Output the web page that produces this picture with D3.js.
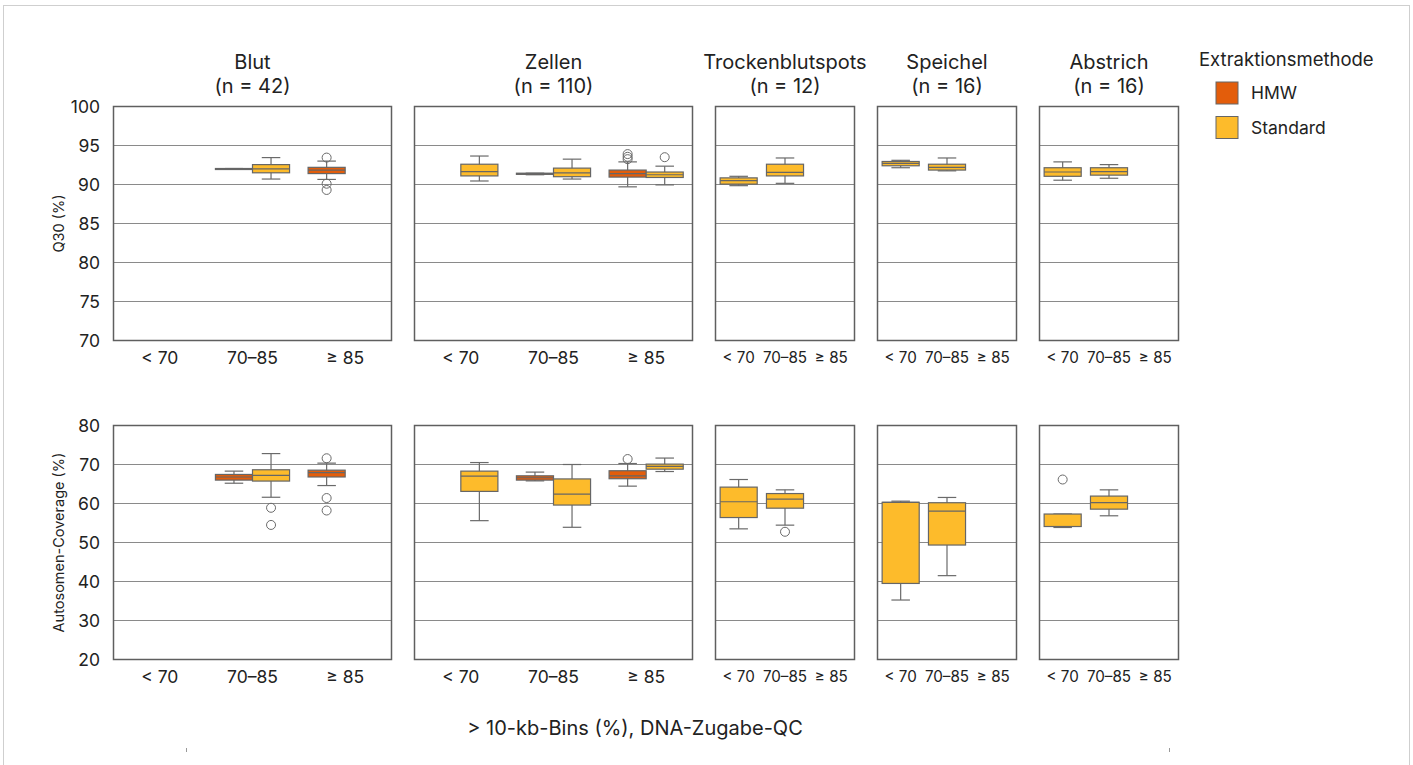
<!DOCTYPE html>
<html>
<head>
<meta charset="utf-8">
<script src="https://cdn.jsdelivr.net/npm/d3@7"></script>
<style>
  body { margin: 0; background: #fff; }
  svg { font-family: Inter, "Noto Sans", sans-serif; }
</style>
</head>
<body>
<div id="chart"></div>
<script>
// facets and their sample sizes
var panels = ["Blut", "Zellen", "Trockenblutspots", "Speichel", "Abstrich"];
var panelN = [42, 110, 12, 16, 16];
var bins = ["< 70", "70–85", "≥ 85"];
var methods = ["HMW", "Standard"];
var methodColors = ["#e35d0b", "#fdbb2b"];

var q30Ticks = [70, 75, 80, 85, 90, 95, 100];
var covTicks = [20, 30, 40, 50, 60, 70, 80];

// [panel, bin, method, whiskerLow, q1, median, q3, whiskerHigh, outliers]
var q30Boxes = [
  ["Blut", "70–85", "HMW", 91.95, 91.95, 92.0, 92.05, 92.05, []],
  ["Blut", "70–85", "Standard", 90.7, 91.5, 92.0, 92.55, 93.45, []],
  ["Blut", "≥ 85", "HMW", 90.65, 91.4, 91.85, 92.2, 93.0, [93.45, 90.1, 89.3]],
  ["Zellen", "< 70", "Standard", 90.45, 91.1, 91.65, 92.6, 93.65, []],
  ["Zellen", "70–85", "HMW", 91.25, 91.3, 91.4, 91.45, 91.45, []],
  ["Zellen", "70–85", "Standard", 90.7, 91.0, 91.5, 92.1, 93.25, []],
  ["Zellen", "≥ 85", "HMW", 89.7, 90.95, 91.4, 91.85, 92.9, [93.9, 93.55, 93.25]],
  ["Zellen", "≥ 85", "Standard", 89.95, 90.9, 91.25, 91.6, 92.35, [93.5]],
  ["Trockenblutspots", "< 70", "Standard", 89.85, 90.05, 90.5, 90.85, 91.05, []],
  ["Trockenblutspots", "70–85", "Standard", 90.15, 91.1, 91.55, 92.6, 93.4, []],
  ["Speichel", "< 70", "Standard", 92.15, 92.4, 92.7, 92.95, 93.1, []],
  ["Speichel", "70–85", "Standard", 91.75, 91.85, 92.2, 92.6, 93.4, []],
  ["Abstrich", "< 70", "Standard", 90.55, 91.05, 91.6, 92.15, 92.9, []],
  ["Abstrich", "70–85", "Standard", 90.8, 91.2, 91.65, 92.15, 92.55, []]
];

var covBoxes = [
  ["Blut", "70–85", "HMW", 65.2, 66.0, 66.8, 67.45, 68.3, []],
  ["Blut", "70–85", "Standard", 61.6, 65.75, 67.2, 68.65, 72.8, [58.9, 54.5]],
  ["Blut", "≥ 85", "HMW", 64.6, 66.8, 67.9, 68.55, 70.35, [71.6, 61.4, 58.2]],
  ["Zellen", "< 70", "Standard", 55.6, 63.1, 67.0, 68.3, 70.5, []],
  ["Zellen", "70–85", "HMW", 65.8, 66.0, 66.6, 67.1, 68.05, []],
  ["Zellen", "70–85", "Standard", 53.9, 59.6, 62.4, 66.3, 70.0, []],
  ["Zellen", "≥ 85", "HMW", 64.45, 66.35, 67.1, 68.4, 70.25, [71.4]],
  ["Zellen", "≥ 85", "Standard", 68.2, 68.8, 69.5, 70.1, 71.65, []],
  ["Trockenblutspots", "< 70", "Standard", 53.5, 56.4, 60.45, 64.2, 66.15, []],
  ["Trockenblutspots", "70–85", "Standard", 54.45, 58.8, 61.1, 62.55, 63.5, [52.75]],
  ["Speichel", "< 70", "Standard", 35.25, 39.5, 60.3, 60.3, 60.6, []],
  ["Speichel", "70–85", "Standard", 41.5, 49.35, 58.05, 60.2, 61.55, []],
  ["Abstrich", "< 70", "Standard", 53.85, 54.1, 54.1, 57.3, 57.3, [66.15]],
  ["Abstrich", "70–85", "Standard", 56.85, 58.55, 60.2, 61.9, 63.5, []]
];

function init() {
  var W = 1413, H = 765;
  var svg = d3.select("#chart").append("svg")
      .attr("width", W).attr("height", H);

  // outer frame of the figure
  svg.append("rect")
      .attr("x", 3.5).attr("y", 5.5)
      .attr("width", 1406).attr("height", 780)
      .attr("fill", "none").attr("stroke", "#cfcfcf");

  var panelWidths = [278, 278, 139, 139, 139];
  var gap = 23;
  var ph = 234;
  var lefts = [];
  var xx = 113.5;
  panelWidths.forEach(function(w) { lefts.push(xx); xx += w + gap; });

  var hasHMW = panels.map(function(p) {
    return q30Boxes.concat(covBoxes).some(function(b) { return b[0] === p && b[2] === "HMW"; });
  });

  var rows = [
    { top: 106.5, domain: [70, 100], ticks: q30Ticks, boxes: q30Boxes, label: "Q30 (%)" },
    { top: 425.5, domain: [20, 80], ticks: covTicks, boxes: covBoxes, label: "Autosomen-Coverage (%)" }
  ];

  rows.forEach(function(row, ri) {
    var yScale = d3.scaleLinear().domain(row.domain).range([row.top + ph, row.top]);

    // y-axis title
    svg.append("text")
      .attr("transform", "translate(64," + (row.top + ph / 2) + ") rotate(-90)")
      .attr("text-anchor", "middle")
      .attr("font-size", 14.5)
      .attr("fill", "#222")
      .text(row.label);

    // y tick labels (only left panel)
    svg.selectAll(".ytick" + ri)
      .data(row.ticks)
      .enter()
      .append("text")
      .attr("x", 100)
      .attr("y", function(d) { return yScale(d); })
      .attr("dy", "0.35em")
      .attr("text-anchor", "end")
      .attr("font-size", 17.5)
      .attr("fill", "#222")
      .text(function(d) { return d; });

    panels.forEach(function(p, pi) {
      var x0 = lefts[pi], w = panelWidths[pi];
      var g = svg.append("g");

      var xScale = d3.scaleBand().domain(bins).range([x0, x0 + w]);
      var bw = xScale.bandwidth();
      var hueScale = d3.scaleBand().domain(methods).range([bw * 0.1, bw * 0.9]);

      // horizontal grid
      g.selectAll("line.grid")
        .data(row.ticks)
        .enter()
        .append("line")
        .attr("x1", x0).attr("x2", x0 + w)
        .attr("y1", function(d) { return yScale(d); })
        .attr("y2", function(d) { return yScale(d); })
        .attr("stroke", "#8a8a8a")
        .attr("stroke-width", 1);

      var data = row.boxes.filter(function(b) { return b[0] === p; });

      function boxX(b) {
        if (hasHMW[pi]) return xScale(b[1]) + hueScale(b[2]);
        return xScale(b[1]) + bw * 0.1;
      }
      function boxW() {
        return hasHMW[pi] ? hueScale.bandwidth() : bw * 0.8;
      }

      var boxes = g.selectAll("g.box")
        .data(data)
        .enter()
        .append("g");

      // whiskers
      boxes.append("line")
        .attr("x1", function(d) { return boxX(d) + boxW() / 2; })
        .attr("x2", function(d) { return boxX(d) + boxW() / 2; })
        .attr("y1", function(d) { return yScale(d[3]); })
        .attr("y2", function(d) { return yScale(d[7]); })
        .attr("stroke", "#6a6a6a").attr("stroke-width", 1.2);
      [3, 7].forEach(function(k) {
        boxes.append("line")
          .attr("x1", function(d) { return boxX(d) + boxW() / 4; })
          .attr("x2", function(d) { return boxX(d) + boxW() * 3 / 4; })
          .attr("y1", function(d) { return yScale(d[k]); })
          .attr("y2", function(d) { return yScale(d[k]); })
          .attr("stroke", "#6a6a6a").attr("stroke-width", 1.2);
      });

      // box
      boxes.append("rect")
        .attr("x", function(d) { return boxX(d); })
        .attr("y", function(d) { return yScale(d[6]); })
        .attr("width", boxW())
        .attr("height", function(d) { return Math.max(1, yScale(d[4]) - yScale(d[6])); })
        .attr("fill", function(d) { return methodColors[methods.indexOf(d[2])]; })
        .attr("stroke", "#666").attr("stroke-width", 1.2);

      // median
      boxes.append("line")
        .attr("x1", function(d) { return boxX(d); })
        .attr("x2", function(d) { return boxX(d) + boxW(); })
        .attr("y1", function(d) { return yScale(d[5]); })
        .attr("y2", function(d) { return yScale(d[5]); })
        .attr("stroke", "#666").attr("stroke-width", 1.2);

      // outliers
      boxes.each(function(d) {
        d3.select(this).selectAll("circle")
          .data(d[8])
          .enter()
          .append("circle")
          .attr("cx", boxX(d) + boxW() / 2)
          .attr("cy", function(v) { return yScale(v); })
          .attr("r", 4.5)
          .attr("fill", "none")
          .attr("stroke", "#6a6a6a").attr("stroke-width", 1);
      });

      // panel frame
      g.append("rect")
        .attr("x", x0).attr("y", row.top)
        .attr("width", w).attr("height", ph)
        .attr("fill", "none")
        .attr("stroke", "#5f5f5f").attr("stroke-width", 1.5);

      // x tick labels
      g.selectAll("text.xtick")
        .data(bins)
        .enter()
        .append("text")
        .attr("x", function(d) { return xScale(d) + bw / 2; })
        .attr("y", row.top + ph + 17)
        .attr("dy", "0.35em")
        .attr("text-anchor", "middle")
        .attr("font-size", w > 200 ? 17.5 : 15.2)
        .attr("fill", "#222")
        .text(function(d) { return d; });

      // facet titles
      if (ri === 0) {
        svg.append("text")
          .attr("x", x0 + w / 2).attr("y", 69)
          .attr("text-anchor", "middle")
          .attr("font-size", 20)
          .attr("fill", "#222")
          .text(p);
        svg.append("text")
          .attr("x", x0 + w / 2).attr("y", 93)
          .attr("text-anchor", "middle")
          .attr("font-size", 20)
          .attr("fill", "#222")
          .text("(n = " + panelN[pi] + ")");
      }
    });
  });

  // x-axis title
  svg.append("text")
    .attr("x", 635).attr("y", 735)
    .attr("text-anchor", "middle")
    .attr("font-size", 20)
    .attr("fill", "#222")
    .text("> 10-kb-Bins (%), DNA-Zugabe-QC");

  // small marks at the bottom
  [186, 1169].forEach(function(x) {
    svg.append("line")
      .attr("x1", x + 0.5).attr("x2", x + 0.5)
      .attr("y1", 748).attr("y2", 752)
      .attr("stroke", "#999").attr("stroke-width", 1);
  });

  // legend
  var legend = svg.append("g");
  legend.append("text")
    .attr("x", 1199).attr("y", 66)
    .attr("font-size", 18.5)
    .attr("fill", "#222")
    .text("Extraktionsmethode");
  var items = legend.selectAll("g.item")
    .data(methods)
    .enter()
    .append("g")
    .attr("transform", function(d, i) { return "translate(1216," + (82 + i * 34.5) + ")"; });
  items.append("rect")
    .attr("width", 22).attr("height", 22)
    .attr("fill", function(d, i) { return methodColors[i]; })
    .attr("stroke", "#666").attr("stroke-width", 1);
  items.append("text")
    .attr("x", 35).attr("y", 11)
    .attr("dy", "0.35em")
    .attr("font-size", 17.5)
    .attr("fill", "#222")
    .text(function(d) { return d; });
}
window.onload = init;
</script>
</body>
</html>
